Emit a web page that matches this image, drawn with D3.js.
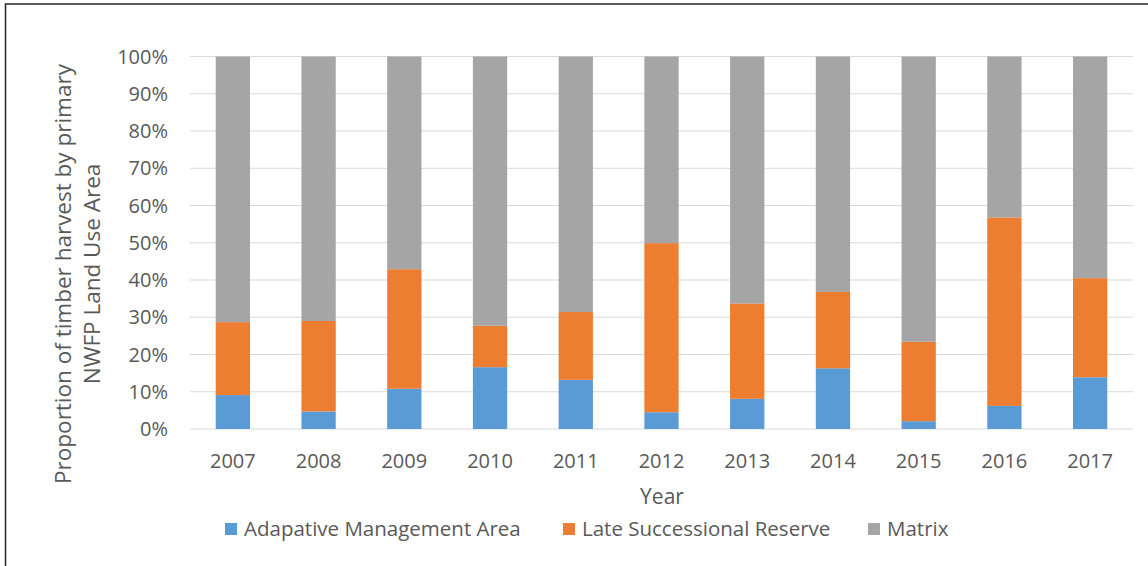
<!DOCTYPE html>
<html lang="en">
<head>
    <meta charset="UTF-8">
    <title>Timber harvest by NWFP Land Use Area</title>
    <script src="https://d3js.org/d3.v7.min.js"></script>
    <style>
        body { margin: 0; background: white; font-family: "Open Sans", Arial, sans-serif; }
        svg text { fill: #595959; }
    </style>
</head>
<body>
    <svg id="chart" width="1148" height="566"></svg>

    <script>
        const years = ["2007", "2008", "2009", "2010", "2011", "2012", "2013", "2014", "2015", "2016", "2017"];
        const seriesNames = ["Adapative Management Area", "Late Successional Reserve", "Matrix"];
        const amaPct = [9.1, 4.7, 10.8, 16.6, 13.2, 4.5, 8.1, 16.3, 2.1, 6.2, 13.9];
        const lsrPct = [19.6, 24.3, 32.1, 11.1, 18.2, 45.4, 25.6, 20.5, 21.3, 50.6, 26.6];
        const yTicks = [0, 10, 20, 30, 40, 50, 60, 70, 80, 90, 100];
        const colors = ["#5b9bd5", "#ed7d31", "#a5a5a5"];

        const svg = d3.select("#chart");

        // frame (only top and left edges show in the picture)
        svg.append("rect")
            .attr("x", 5.5).attr("y", 4)
            .attr("width", 1160).attr("height", 580)
            .attr("fill", "none")
            .attr("stroke", "#262626")
            .attr("stroke-width", 1.5);

        const margin = { left: 190, right: 15, top: 56.5, bottom: 137 };
        const width = 1148, height = 566;

        const x = d3.scaleBand()
            .domain(years)
            .range([margin.left, width - margin.right])
            .paddingInner(0.6)
            .paddingOuter(0.3);

        const y = d3.scaleLinear()
            .domain([0, 100])
            .range([height - margin.bottom, margin.top]);

        // rows: amount per series, matrix is the remainder
        const rows = years.map((yr, i) => ({
            year: yr,
            [seriesNames[0]]: amaPct[i],
            [seriesNames[1]]: lsrPct[i],
            [seriesNames[2]]: 100 - amaPct[i] - lsrPct[i]
        }));
        const stacked = d3.stack().keys(seriesNames)(rows);

        // gridlines
        svg.append("g")
            .selectAll("line")
            .data(yTicks)
            .join("line")
            .attr("x1", margin.left)
            .attr("x2", width - margin.right)
            .attr("y1", d => y(d))
            .attr("y2", d => y(d))
            .attr("stroke", "#d9d9d9")
            .attr("stroke-width", 1.2);

        // bars
        svg.append("g")
            .selectAll("g")
            .data(stacked)
            .join("g")
            .attr("fill", (d, i) => colors[i])
            .selectAll("rect")
            .data(d => d)
            .join("rect")
            .attr("x", d => x(d.data.year))
            .attr("width", x.bandwidth())
            .attr("y", d => y(d[1]))
            .attr("height", d => y(d[0]) - y(d[1]));

        // y tick labels
        svg.append("g")
            .selectAll("text")
            .data(yTicks)
            .join("text")
            .attr("x", 168)
            .attr("y", d => y(d))
            .attr("dy", "0.35em")
            .attr("text-anchor", "end")
            .style("font-size", "20px")
            .text(d => d + "%");

        // x tick labels
        svg.append("g")
            .selectAll("text")
            .data(years)
            .join("text")
            .attr("x", d => x(d) + x.bandwidth() / 2)
            .attr("y", 461)
            .attr("dy", "0.35em")
            .attr("text-anchor", "middle")
            .style("font-size", "20px")
            .text(d => d);

        // axis titles
        svg.append("text")
            .attr("x", 662)
            .attr("y", 497)
            .attr("dy", "0.35em")
            .attr("text-anchor", "middle")
            .style("font-size", "21px")
            .text("Year");

        const yTitle = svg.append("text")
            .attr("transform", "translate(63,274) rotate(-90)")
            .attr("text-anchor", "middle")
            .style("font-size", "22.5px");
        yTitle.append("tspan").attr("x", 0).attr("dy", "0.35em").text("Proportion of timber harvest by primary");
        yTitle.append("tspan").attr("x", 0).attr("dy", "1.3em").text("NWFP Land Use Area");

        // legend
        const legendX = [225, 563, 868];
        const legend = svg.append("g")
            .selectAll("g")
            .data(seriesNames)
            .join("g")
            .attr("transform", (d, i) => `translate(${legendX[i]},529)`);
        legend.append("rect")
            .attr("x", 0).attr("y", -6)
            .attr("width", 12).attr("height", 12)
            .attr("fill", (d, i) => colors[i]);
        legend.append("text")
            .attr("x", 19)
            .attr("dy", "0.35em")
            .style("font-size", "20.5px")
            .text(d => d);
    </script>
</body>
</html>
